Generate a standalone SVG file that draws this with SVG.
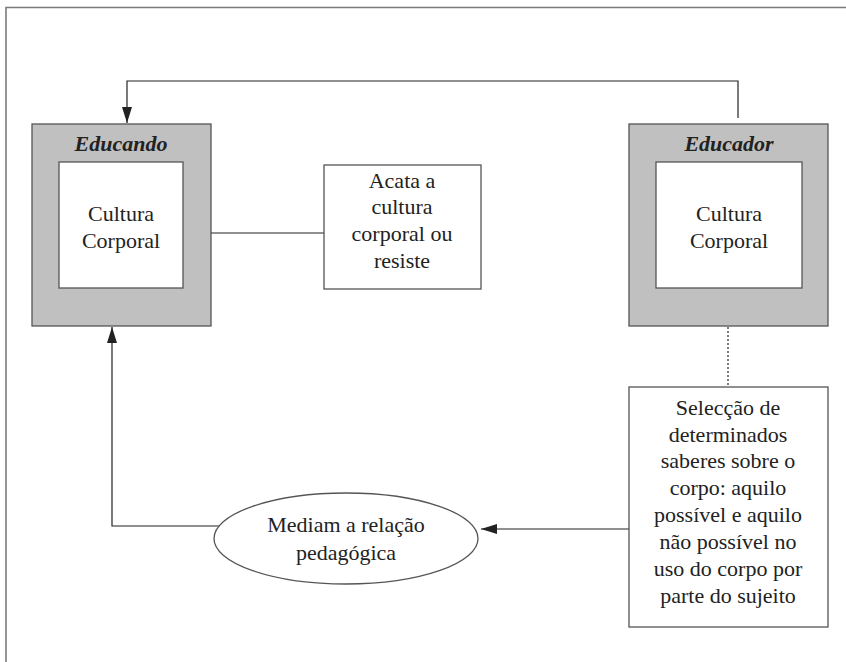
<svg xmlns="http://www.w3.org/2000/svg" width="846" height="662" viewBox="0 0 846 662">
  <style>
    .frame { fill: none; stroke: #7a7a7a; stroke-width: 1.6; }
    .outer { fill: #c0c0c0; stroke: #555; stroke-width: 1.3; }
    .inner { fill: #fff; stroke: #555; stroke-width: 1.3; }
    .box { fill: #fff; stroke: #555; stroke-width: 1.3; }
    .txt { font-family: "Liberation Serif", serif; font-size: 22px; fill: #222; text-anchor: middle; }
    .title { font-family: "Liberation Serif", serif; font-size: 22px; font-weight: bold; font-style: italic; fill: #222; text-anchor: middle; }
    .line { fill: none; stroke: #222; stroke-width: 1.2; }
    .dot { fill: none; stroke: #222; stroke-width: 1.2; stroke-dasharray: 2 2; }
  </style>
  <defs>
    <marker id="arrowL" viewBox="0 0 16 10" refX="16" refY="5" markerWidth="16" markerHeight="10" markerUnits="userSpaceOnUse" orient="auto">
      <path d="M0,0 L16,5 L0,10 Z" fill="#222"/>
    </marker>
  </defs>

  <!-- page frame -->
  <path class="frame" d="M6,662 L6,7.5 L846,7.5"/>

  <g id="connectors">
    <path class="line" d="M738,118 L738,81 L127,81 L127,123" marker-end="url(#arrowL)"/>
    <path class="line" d="M211,233 L324,233"/>
    <path class="dot" d="M728,327 L728,387"/>
    <path class="line" d="M629,529 L481,529" marker-end="url(#arrowL)"/>
    <path class="line" d="M219,526 L112,526 L112,327" marker-end="url(#arrowL)"/>
  </g>

  <g id="educando">
    <rect class="outer" x="32" y="124" width="179" height="202"/>
    <rect class="inner" x="59" y="162" width="124" height="126"/>
    <text class="title" x="121" y="151">Educando</text>
    <text class="txt" x="121" y="221">Cultura</text>
    <text class="txt" x="121" y="248">Corporal</text>
  </g>

  <g id="educador">
    <rect class="outer" x="629" y="124" width="199" height="202"/>
    <rect class="inner" x="656" y="162" width="146" height="126"/>
    <text class="title" x="729" y="151">Educador</text>
    <text class="txt" x="729" y="221">Cultura</text>
    <text class="txt" x="729" y="248">Corporal</text>
  </g>

  <g id="acata">
    <rect class="box" x="324" y="165" width="157" height="124"/>
    <text class="txt" x="402" y="188">Acata a</text>
    <text class="txt" x="402" y="214">cultura</text>
    <text class="txt" x="402" y="241">corporal ou</text>
    <text class="txt" x="402" y="268">resiste</text>
  </g>

  <g id="seleccao">
    <rect class="box" x="629" y="387" width="199" height="240"/>
    <text class="txt" x="728" y="415">Selecção de</text>
    <text class="txt" x="728" y="442">determinados</text>
    <text class="txt" x="728" y="468">saberes sobre o</text>
    <text class="txt" x="728" y="495">corpo: aquilo</text>
    <text class="txt" x="728" y="522">possível e aquilo</text>
    <text class="txt" x="728" y="549">não possível no</text>
    <text class="txt" x="728" y="576">uso do corpo por</text>
    <text class="txt" x="728" y="603">parte do sujeito</text>
  </g>

  <g id="mediam">
    <ellipse class="box" cx="346" cy="538.5" rx="132" ry="45.5"/>
    <text class="txt" x="346" y="532">Mediam a relação</text>
    <text class="txt" x="346" y="560">pedagógica</text>
  </g>
</svg>
